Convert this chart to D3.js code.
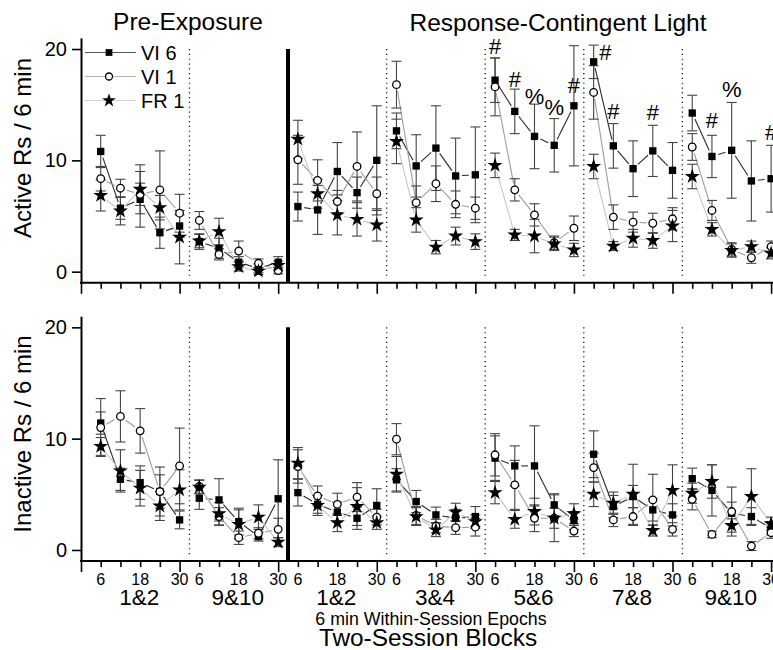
<!DOCTYPE html>
<html>
<head>
<meta charset="utf-8">
<script src="https://cdn.jsdelivr.net/npm/d3@7"></script>
<style>
  body { margin: 0; background: #fff; }
  text { font-family: "Liberation Sans", Arial, sans-serif; fill: #000; }
</style>
</head>
<body>
<div id="chart"></div>
<script>
// ---- data ----
var phases = ["Pre-Exposure", "Response-Contingent Light"];
var blocks = ["1&2", "9&10", "1&2", "3&4", "5&6", "7&8", "9&10"];
var epochLabels = ["6", "", "18", "", "30"];
var seriesNames = ["VI 6", "VI 1", "FR 1"];

// active responses, 35 epochs (7 blocks x 5)
var activeVI6 = [10.8, 5.7, 6.5, 3.5, 4.1, 2.7, 2.1, 0.85, 0.3, 0.85,
  5.85, 5.55, 9.0, 7.1, 10.0,
  12.65, 9.5, 11.1, 8.6, 8.7,
  17.2, 14.4, 12.15, 11.35, 14.9,
  18.85, 11.3, 9.25, 10.85, 9.1,
  14.25, 10.35, 10.9, 8.15, 8.35];
var activeVI6se = [1.45, 1.0, 2.5, 1.4, 1.0, 0.7, 0.9, 0.5, 0.4, 0.5,
  1.3, 2.2, 2.6, 1.4, 4.9,
  1.6, 2.8, 3.8, 3.4, 4.3,
  2.0, 2.0, 2.9, 2.4, 5.4,
  1.5, 2.0, 2.5, 2.3, 2.5,
  1.6, 1.9, 4.3, 3.6, 3.0];
var activeVI1 = [8.35, 7.5, 6.95, 7.35, 5.25, 4.6, 1.55, 1.85, 0.75, 0.1,
  10.05, 8.2, 6.3, 9.45, 7.0,
  16.8, 6.2, 7.9, 6.05, 5.7,
  16.6, 7.35, 5.1, 2.6, 3.9,
  16.1, 4.9, 4.45, 4.35, 4.75,
  11.2, 5.5, 2.0, 1.25, 2.25];
var activeVI1se = [1.1, 0.8, 1.0, 3.5, 1.7, 0.8, 0.5, 0.9, 0.4, 0.3,
  2.2, 1.85, 1.0, 3.1, 1.5,
  2.1, 1.5, 1.6, 1.2, 1.0,
  2.6, 1.0, 1.0, 0.6, 1.1,
  2.4, 1.1, 0.9, 0.9, 1.0,
  1.2, 0.9, 0.6, 0.5, 0.5];
var activeFR1 = [6.85, 5.45, 7.4, 5.75, 3.1, 2.75, 3.6, 0.45, 0.05, 0.55,
  11.9, 7.0, 5.1, 4.7, 4.2,
  11.7, 4.65, 2.2, 3.2, 2.7,
  9.55, 3.3, 3.2, 2.5, 1.95,
  9.45, 2.3, 3.0, 2.8, 4.1,
  8.55, 3.8, 1.9, 2.25, 1.65];
var activeFR1se = [1.4, 1.25, 2.2, 1.1, 2.4, 0.6, 1.2, 0.4, 0.3, 0.4,
  1.7, 1.3, 1.8, 1.5, 1.45,
  2.0, 1.1, 0.6, 0.8, 0.7,
  1.1, 0.5, 1.5, 0.6, 0.6,
  1.1, 0.4, 0.8, 0.7, 1.4,
  1.1, 0.6, 0.6, 0.5, 0.5];

// inactive responses
var inactiveVI6 = [11.4, 6.35, 6.05, 5.25, 2.7, 4.65, 4.5, 2.55, 1.2, 4.6,
  5.15, 4.1, 3.4, 2.85, 4.0,
  6.3, 4.35, 3.15, 2.85, 3.0,
  8.25, 7.55, 7.55, 4.05, 2.65,
  8.6, 3.9, 4.8, 3.6, 3.15,
  6.4, 5.35, 3.3, 3.0, 1.95];
var inactiveVI6se = [1.0, 1.0, 1.5, 1.5, 0.8, 1.0, 1.9, 1.2, 0.4, 3.5,
  1.2, 0.8, 0.9, 1.0, 1.5,
  1.0, 1.0, 0.7, 0.8, 0.9,
  2.0, 1.8, 3.6, 1.0, 0.8,
  2.1, 1.0, 1.0, 1.0, 1.0,
  0.95, 2.3, 1.0, 0.8, 0.6];
var inactiveVI1 = [11.0, 12.0, 10.7, 5.25, 7.55, 5.7, 3.0, 1.1, 1.5, 1.85,
  7.5, 4.85, 4.1, 4.75, 2.95,
  9.95, 3.1, 2.15, 2.0, 2.05,
  8.55, 5.85, 2.85, 2.85, 1.7,
  7.4, 2.7, 3.0, 4.5, 1.85,
  4.55, 1.4, 3.45, 0.35, 1.55];
var inactiveVI1se = [2.6, 2.3, 2.0, 2.2, 3.4, 0.6, 0.8, 0.6, 0.5, 1.0,
  1.5, 0.9, 1.0, 1.3, 0.7,
  1.4, 0.8, 0.6, 0.6, 0.8,
  1.9, 2.2, 1.2, 0.9, 0.5,
  1.3, 0.6, 0.8, 2.3, 0.6,
  0.95, 0.3, 2.2, 0.4, 0.5];
var inactiveFR1 = [9.3, 7.1, 5.55, 3.95, 5.4, 5.65, 3.25, 2.3, 2.95, 0.7,
  7.8, 4.0, 2.45, 3.9, 2.45,
  6.8, 3.0, 1.8, 3.4, 2.55,
  5.15, 2.75, 3.45, 2.85, 3.25,
  5.0, 4.2, 5.0, 1.75, 5.35,
  5.1, 6.15, 2.2, 4.8, 2.35];
var inactiveFR1se = [0.8, 1.9, 1.6, 1.3, 1.8, 0.6, 1.0, 1.3, 1.1, 0.4,
  1.4, 0.9, 0.8, 1.7, 0.6,
  1.6, 0.8, 0.6, 0.8, 0.6,
  1.0, 0.8, 1.2, 2.1, 0.9,
  1.1, 1.0, 2.7, 0.5, 2.3,
  0.9, 1.5, 0.6, 2.5, 0.6];

// significance marks on the active panel
var markIdx = [20, 21, 22, 23, 24, 25, 26, 28, 31, 32, 34];
var markText = ["#", "#", "%", "%", "#", "#", "#", "#", "#", "%", "#"];
var markAt = [20.3, 17.3, 15.8, 14.8, 16.8, 19.7, 14.4, 14.3, 13.6, 16.4, 12.5];
var markShift = [0, 0, 0, 0, 0, 0.6, 0, 0, 0, 0, 0];

// ---- chart ----
var W = 773, H = 650;
var svg = d3.select("#chart").append("svg")
    .attr("width", W)
    .attr("height", H);

var x = d3.scaleLinear().domain([-1, 34]).range([81, 771.1]);
var yTop = d3.scaleLinear().domain([-1, 21]).range([282.8, 37.9]);
var yBot = d3.scaleLinear().domain([-1, 21]).range([561.1, 316.2]);

var styles = [
    {line: "#2a2a2a", legend: "#555", shape: "square"},
    {line: "#9c9c9c", legend: "#b4b4b4", shape: "circle"},
    {line: "#c6c6c6", legend: "#cfcfcf", shape: "star"}
];

function drawMarker(g, shape, cx, cy, k) {
    k = k || 1;
    if (shape == "square") {
        g.append("path")
            .attr("d", d3.symbol().type(d3.symbolSquare).size(54 * k)())
            .attr("transform", "translate(" + cx + "," + cy + ")")
            .attr("fill", "#000");
    } else if (shape == "circle") {
        g.append("circle")
            .attr("cx", cx).attr("cy", cy).attr("r", 3.8 * Math.sqrt(k))
            .attr("fill", "#fff")
            .attr("stroke", "#000")
            .attr("stroke-width", 1.3);
    } else {
        g.append("path")
            .attr("d", d3.symbol().type(d3.symbolStar).size(70 * k)())
            .attr("transform", "translate(" + cx + "," + cy + ")")
            .attr("fill", "#000");
    }
}

function drawPanel(y, series, errs, yTitle, titleY) {
    var g = svg.append("g");

    // separators
    [4.5, 14.5, 19.5, 24.5, 29.5].forEach(function(b) {
        g.append("line")
            .attr("x1", x(b)).attr("x2", x(b))
            .attr("y1", y(20)).attr("y2", y(-0.45))
            .attr("stroke", "#222")
            .attr("stroke-width", 1.4)
            .attr("stroke-dasharray", "1.2,3.6");
    });
    g.append("line")
        .attr("x1", x(9.5)).attr("x2", x(9.5))
        .attr("y1", y(20)).attr("y2", y(-1))
        .attr("stroke", "#000")
        .attr("stroke-width", 4);

    // y axis
    g.append("g")
        .attr("transform", "translate(" + x(-1) + ",0)")
        .call(d3.axisLeft(y).tickValues([0, 10, 20]).tickSize(9).tickSizeOuter(0).tickPadding(5))
        .call(function(a) {
            a.select(".domain").attr("stroke-width", 2);
            a.selectAll(".tick line").attr("stroke-width", 1.6);
            a.selectAll(".tick text").style("font-size", "20px")
                .style("font-family", "'Liberation Sans', Arial, sans-serif");
        });

    // x axis
    var xa = g.append("g")
        .attr("transform", "translate(0," + y(-1) + ")")
        .call(d3.axisBottom(x).tickValues(d3.range(-1, 35)).tickSize(6).tickSizeOuter(0).tickFormat(""));
    xa.select(".domain").remove();
    xa.selectAll(".tick line")
        .attr("stroke-width", 1.6)
        .attr("y2", function(d) { return (d + 1) % 5 == 0 ? 11 : 6; });
    g.append("line")
        .attr("x1", x(-1) - 1).attr("x2", W)
        .attr("y1", y(-1)).attr("y2", y(-1))
        .attr("stroke", "#000")
        .attr("stroke-width", 2);

    // y title
    g.append("text")
        .attr("transform", "translate(31," + titleY + ") rotate(-90)")
        .attr("text-anchor", "middle")
        .style("font-size", "24px")
        .text(yTitle);

    // connecting lines with gaps at markers, per block
    var gap = 6.5;
    series.forEach(function(vals, s) {
        for (var b = 0; b < blocks.length; b++) {
            for (var j = 0; j < 4; j++) {
                var i = b * 5 + j;
                var x1 = x(i), y1 = y(vals[i]), x2 = x(i + 1), y2 = y(vals[i + 1]);
                var dx = x2 - x1, dy = y2 - y1, len = Math.sqrt(dx * dx + dy * dy);
                if (len <= 2 * gap + 1) continue;
                var ux = dx / len, uy = dy / len;
                g.append("line")
                    .attr("x1", x1 + ux * gap).attr("y1", y1 + uy * gap)
                    .attr("x2", x2 - ux * gap).attr("y2", y2 - uy * gap)
                    .attr("stroke", styles[s].line)
                    .attr("stroke-width", 1.1);
            }
        }
    });

    // error bars
    series.forEach(function(vals, s) {
        vals.forEach(function(v, i) {
            var se = errs[s][i];
            var cx = x(i), t = y(v + se), bt = y(v - se);
            g.append("line").attr("x1", cx).attr("x2", cx).attr("y1", t).attr("y2", bt)
                .attr("stroke", "#444").attr("stroke-width", 1.1);
            [t, bt].forEach(function(yy) {
                g.append("line").attr("x1", cx - 5).attr("x2", cx + 5).attr("y1", yy).attr("y2", yy)
                    .attr("stroke", "#444").attr("stroke-width", 1.1);
            });
        });
    });

    // markers
    series.forEach(function(vals, s) {
        vals.forEach(function(v, i) {
            drawMarker(g, styles[s].shape, x(i), y(v));
        });
    });

    return g;
}

var topPanel = drawPanel(yTop, [activeVI6, activeVI1, activeFR1],
    [activeVI6se, activeVI1se, activeFR1se], "Active Rs / 6 min", 148);
var bottomPanel = drawPanel(yBot, [inactiveVI6, inactiveVI1, inactiveFR1],
    [inactiveVI6se, inactiveVI1se, inactiveFR1se], "Inactive Rs / 6 min", 434);

// phase titles
svg.append("text").attr("x", 188).attr("y", 30).attr("text-anchor", "middle")
    .style("font-size", "24.5px").text(phases[0]);
svg.append("text").attr("x", 558).attr("y", 31).attr("text-anchor", "middle")
    .style("font-size", "24.5px").text(phases[1]);

// significance marks
markIdx.forEach(function(i, k) {
    topPanel.append("text")
        .attr("x", x(i + markShift[k]))
        .attr("y", yTop(markAt[k]))
        .attr("dy", "0.36em")
        .attr("text-anchor", "middle")
        .style("font-size", "22px")
        .text(markText[k]);
});

// legend
seriesNames.forEach(function(name, s) {
    var ly = 52.5 + s * 24;
    svg.append("line").attr("x1", 85).attr("x2", 136).attr("y1", ly).attr("y2", ly)
        .attr("stroke", styles[s].legend).attr("stroke-width", 1.2);
    drawMarker(svg, styles[s].shape, 109, ly, 0.85);
    svg.append("text").attr("x", 141).attr("y", ly).attr("dy", "0.36em")
        .style("font-size", "20px").text(name);
});

// bottom tick labels and block labels
blocks.forEach(function(b, k) {
    epochLabels.forEach(function(lab, j) {
        if (lab == "") return;
        svg.append("text")
            .attr("x", x(k * 5 + j)).attr("y", 585)
            .attr("text-anchor", "middle")
            .style("font-size", "16px")
            .text(lab);
    });
    svg.append("text")
        .attr("x", x(k * 5 + 2) - 1).attr("y", 605)
        .attr("text-anchor", "middle")
        .style("font-size", "22.5px")
        .text(b);
});

svg.append("text").attr("x", 431).attr("y", 625).attr("text-anchor", "middle")
    .style("font-size", "17.8px").text("6 min Within-Session Epochs");
svg.append("text").attr("x", 428).attr("y", 646).attr("text-anchor", "middle")
    .style("font-size", "24.4px").text("Two-Session Blocks");
</script>
</body>
</html>
